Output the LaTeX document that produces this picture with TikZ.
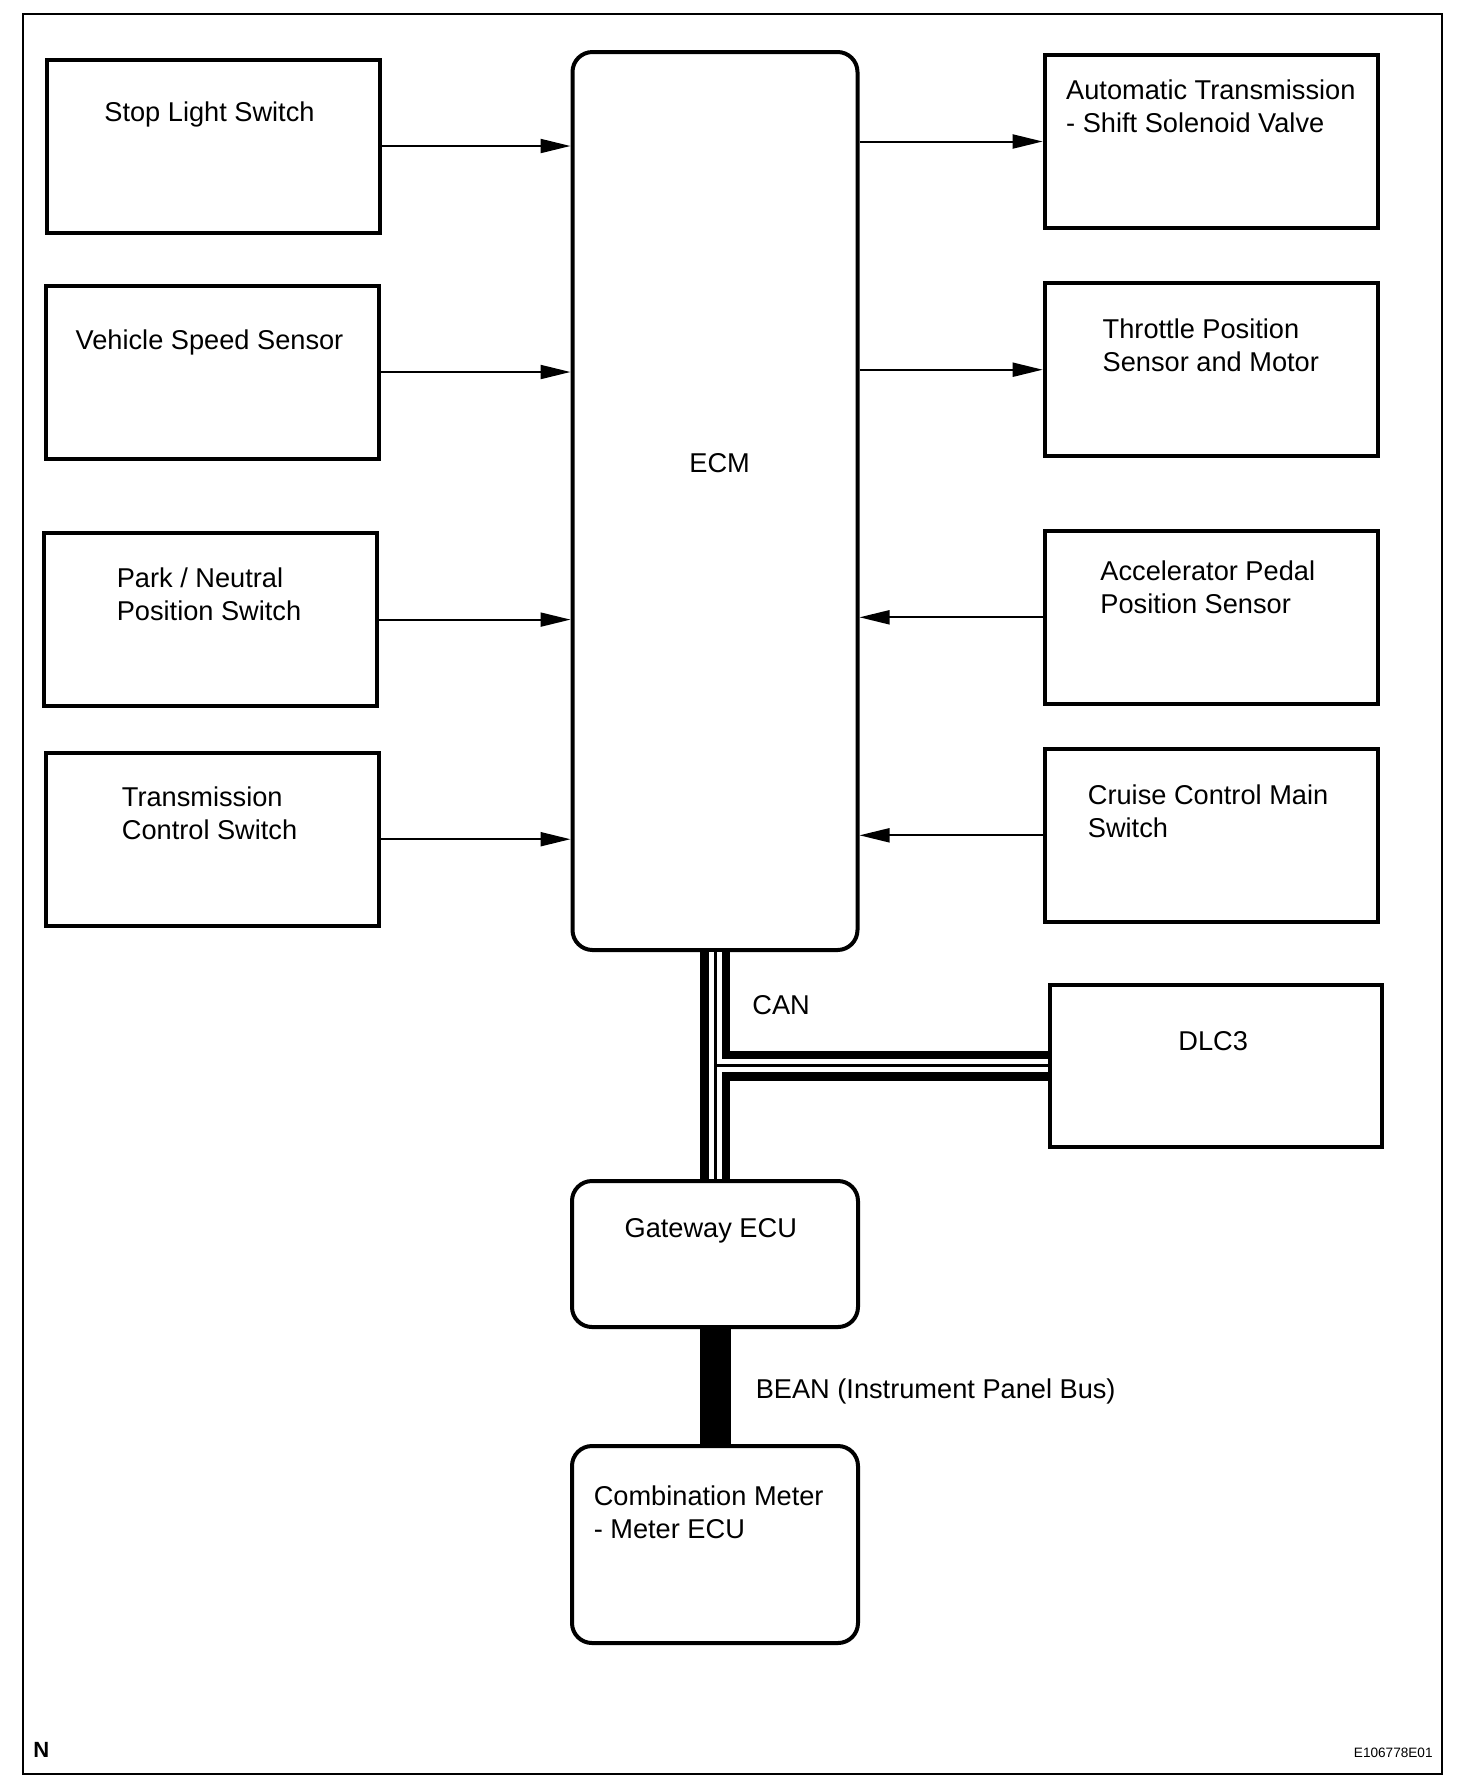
\documentclass[tikz,border=0pt]{standalone}
\usepackage{fontspec}
\setmainfont{Liberation Sans}
\usetikzlibrary{arrows.meta}
\usetikzlibrary{calc}
\tikzset{
	unit/.style={draw, line width=2pt, inner sep=0pt, minimum width=166.5pt, minimum height=86.5pt},
	ecu/.style={unit, rounded corners=10pt, minimum width=143pt},
	txt/.style={anchor=base west, inner sep=0pt, align=left, font=\fontsize{13.6}{16.5}\selectfont},
	sig/.style={line width=1pt, -{Triangle[length=15pt,width=7pt]}},
	canbus/.style={line width=15pt, postaction={draw, white, line width=6.5pt}, postaction={draw, black, line width=1.5pt}},
	beanbus/.style={line width=15.5pt},
}
\newcommand{\drawUnit}[3]{
	\node[#2] (#1) at (#1_C) {};
	\node[txt] (#1_L) at (#1_T) {#3};
}
\newcommand{\drawInArrow}[2]{
	\draw[sig] (#1) -- (#1 -| #2.west);
}
\newcommand{\drawOutArrow}[2]{
	\draw[sig] (#2 -| #1.east) -- (#2);
}
\newcommand{\drawBackArrow}[2]{
	\draw[sig] (#1) -- (#1 -| #2.east);
}

\begin{document}
\begin{tikzpicture}[x=0.5pt, y=-0.5pt]
		\useasboundingbox (0,0) rectangle (1472,1790);
		\draw[line width=1.3pt] (23,14) rectangle (1442,1774);

		% box centres and text positions (pixels, y down; text at last baseline)
		\coordinate (SLS_C) at (213.4,146);
		\coordinate (SLS_T) at (104,121.6);
		\coordinate (VSS_C) at (212.2,372);
		\coordinate (VSS_T) at (75.3,349.8);
		\coordinate (PNP_C) at (210.5,619.6);
		\coordinate (PNP_T) at (116.4,620.3);
		\coordinate (TCS_C) at (212.2,839.2);
		\coordinate (TCS_T) at (121.5,839.4);
		\coordinate (ECM_C) at (715,501);
		\coordinate (ECM_T) at (689,472);
		\coordinate (ATS_C) at (1211.2,141.5);
		\coordinate (ATS_T) at (1065.8,132.5);
		\coordinate (TPM_C) at (1211.2,369.7);
		\coordinate (TPM_T) at (1102.3,371);
		\coordinate (APP_C) at (1211.2,617.3);
		\coordinate (APP_T) at (1100,613.4);
		\coordinate (CCS_C) at (1211.2,835.3);
		\coordinate (CCS_T) at (1087.5,837);
		\coordinate (DLC_C) at (1216,1065.8);
		\coordinate (DLC_T) at (1178,1050.4);
		\coordinate (GW_C) at (715,1254);
		\coordinate (GW_T) at (624.2,1237.6);
		\coordinate (CMM_C) at (715,1544.5);
		\coordinate (CMM_T) at (593.4,1538);

		\drawUnit{SLS}{unit}{Stop Light Switch}
		\drawUnit{VSS}{unit}{Vehicle Speed Sensor}
		\drawUnit{PNP}{unit}{Park / Neutral\\Position Switch}
		\drawUnit{TCS}{unit}{Transmission\\Control Switch}
		\drawUnit{ECM}{ecu, minimum width=142.5pt, minimum height=449pt}{ECM}
		\drawUnit{ATS}{unit}{Automatic Transmission\\- Shift Solenoid Valve}
		\drawUnit{TPM}{unit}{Throttle Position\\Sensor and Motor}
		\drawUnit{APP}{unit}{Accelerator Pedal\\Position Sensor}
		\drawUnit{CCS}{unit}{Cruise Control Main\\Switch}
		\drawUnit{DLC}{unit, minimum width=166pt, minimum height=81pt}{DLC3}
		\drawUnit{GW}{ecu, minimum height=73pt}{Gateway ECU}
		\drawUnit{CMM}{ecu, minimum height=98.5pt}{Combination Meter\\- Meter ECU}

		\drawInArrow{SLS}{ECM}
		\drawInArrow{VSS}{ECM}
		\drawInArrow{PNP}{ECM}
		\drawInArrow{TCS}{ECM}
		\drawOutArrow{ECM}{ATS}
		\drawOutArrow{ECM}{TPM}
		\drawBackArrow{APP}{ECM}
		\drawBackArrow{CCS}{ECM}

		% buses
		\draw[canbus] (ECM.south) -- (GW.north) (ECM.south |- DLC.west) -- (DLC.west);
		\draw[beanbus] (GW.south) -- (CMM.north);
		\node[txt] (CAN_L) at (752,1014) {CAN};
		\node[txt] (BEAN_L) at (755.4,1398.5) {BEAN (Instrument Panel Bus)};

		\node[txt, font=\fontsize{11}{13}\selectfont\bfseries] (N_L) at (33,1757) {N};
		\node[txt, anchor=base east, font=\fontsize{6.8}{8}\selectfont] (FIG_L) at (1433,1757) {E106778E01};
	\end{tikzpicture}
\end{document}
